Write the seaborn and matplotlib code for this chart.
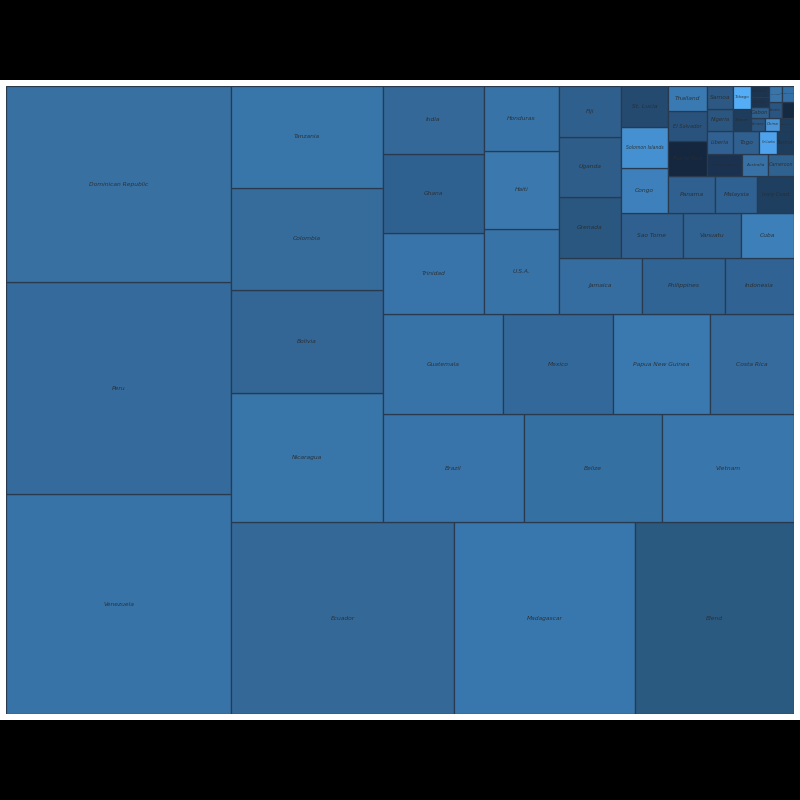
import matplotlib
matplotlib.use("Agg")
import matplotlib.pyplot as plt
import seaborn as sns

sns.set_style("white")

# Number of ratings per bean origin
origins = [
    "Venezuela", "Peru", "Dominican Republic", "Ecuador", "Madagascar", "Blend",
    "Nicaragua", "Bolivia", "Colombia", "Tanzania", "Brazil", "Belize", "Vietnam",
    "Guatemala", "Mexico", "Papua New Guinea", "Costa Rica", "Trinidad", "Ghana",
    "India", "U.S.A.", "Haiti", "Honduras", "Jamaica", "Philippines", "Indonesia",
    "Grenada", "Uganda", "Fiji", "Sao Tome", "Vanuatu", "Cuba", "Congo",
    "Solomon Islands", "St. Lucia", "Panama", "Malaysia", "Ivory Coast",
    "Puerto Rico", "El Salvador", "Thailand", "Sierra Leone", "Australia",
    "Cameroon", "Liberia", "Nigeria", "Samoa", "Togo", "Sri Lanka", "Burma",
    "Taiwan", "Tobago", "Suriname", "China", "Martinique", "Gabon", "Principe",
    "Sulawesi", "Sumatra", "DR Congo", "St. Vincent", "Sao Tome & Principe",
]
counts = [
    253, 244, 226, 219, 177, 156,
    100, 80, 79, 79, 78, 76, 73,
    62, 56, 50, 43, 42, 41,
    35, 33, 30, 25, 24, 24, 20,
    19, 19, 16, 14, 13, 12, 11,
    10, 10, 9, 8, 7,
    7, 6, 5, 4, 3,
    3, 3, 3, 3, 3, 2, 2,
    2, 2, 1, 1, 1, 1, 1,
    1, 1, 1, 1, 1,
]

colors = [
    "#3873a7", "#356b9c", "#3871a1", "#346897", "#3877ad", "#2b5a81",
    "#3875a8", "#336595", "#356c9c", "#3875a9", "#3874a9", "#3570a3", "#3976ac",
    "#3873a8", "#33689a", "#3a79b0", "#356b9d", "#3874a9", "#2f6190",
    "#336898", "#3873a8", "#3a78ae", "#3773a6", "#356da0", "#306494", "#306393",
    "#2a5780", "#2e5d89", "#2f5f8c", "#2f6090", "#306292", "#3d7fb8", "#3d80bb",
    "#4490d0", "#244a70", "#2f6090", "#2f6192", "#1f3f60",
    "#15273f", "#29537c", "#3a7ab2", "#1a3250", "#3871a6",
    "#30628f", "#306192", "#2a5680", "#2c5883", "#2f6090", "#4ea3ec", "#1e3d5d",
    "#1e3c5c", "#55aef5", "#2a5580", "#4a95d8", "#1e3d5d", "#2f5f8c", "#1c3450",
    "#1c3450", "#2a5580", "#142a40", "#3a75aa", "#3470a6",
]


def layout_block(sizes, x, y, dx, dy):
    rects = []
    if dx >= dy:
        width = sum(sizes) / dy
        for s in sizes:
            rects.append((x, y, width, s / width))
            y += s / width
    else:
        height = sum(sizes) / dx
        for s in sizes:
            rects.append((x, y, s / height, height))
            x += s / height
    return rects


def leftover(sizes, x, y, dx, dy):
    if dx >= dy:
        width = sum(sizes) / dy
        return x + width, y, dx - width, dy
    height = sum(sizes) / dx
    return x, y + height, dx, dy - height


def worst(sizes, x, y, dx, dy):
    return max(max(w / h, h / w) for _, _, w, h in layout_block(sizes, x, y, dx, dy))


def squarify(sizes, x, y, dx, dy):
    if len(sizes) == 0:
        return []
    if len(sizes) == 1:
        return layout_block(sizes, x, y, dx, dy)
    i = 1
    while i < len(sizes) and worst(sizes[:i], x, y, dx, dy) >= worst(sizes[:i + 1], x, y, dx, dy):
        i += 1
    rest = leftover(sizes[:i], x, y, dx, dy)
    return layout_block(sizes[:i], x, y, dx, dy) + squarify(sizes[i:], *rest)


total = sum(counts)
norm = [c * 100 * 100 / total for c in counts]
rects = squarify(norm, 0, 0, 100, 100)

fig = plt.figure(figsize=(8, 8), dpi=100, facecolor="white")
for yb in (0, 0.9):
    fig.patches.append(plt.Rectangle((0, yb), 1, 0.1, transform=fig.transFigure,
                                     facecolor="black", edgecolor="none"))
ax = fig.add_axes([6 / 800, 86 / 800, 788 / 800, 628 / 800])
ax.bar([r[0] for r in rects], [r[3] for r in rects], width=[r[2] for r in rects],
       bottom=[r[1] for r in rects], align="edge", color=colors,
       edgecolor="#2a3a4e", linewidth=0.9)

# label size shrinks so the name fits inside its tile
for (rx, ry, rw, rh), name in zip(rects, origins):
    w_px = rw * 7.88
    fs = min(4.3, 0.8 * w_px * 4.3 / (len(name) * 3.3))
    ax.text(rx + rw / 2, ry + rh / 2, name, ha="center", va="center",
            fontsize=fs, fontstyle="italic", color="#2b2b2b", alpha=0.9,
            clip_on=True)
ax.set_xlim(0, 100)
ax.set_ylim(0, 100)
ax.axis("off")

fig.savefig("out.png", dpi=100, facecolor="white")
